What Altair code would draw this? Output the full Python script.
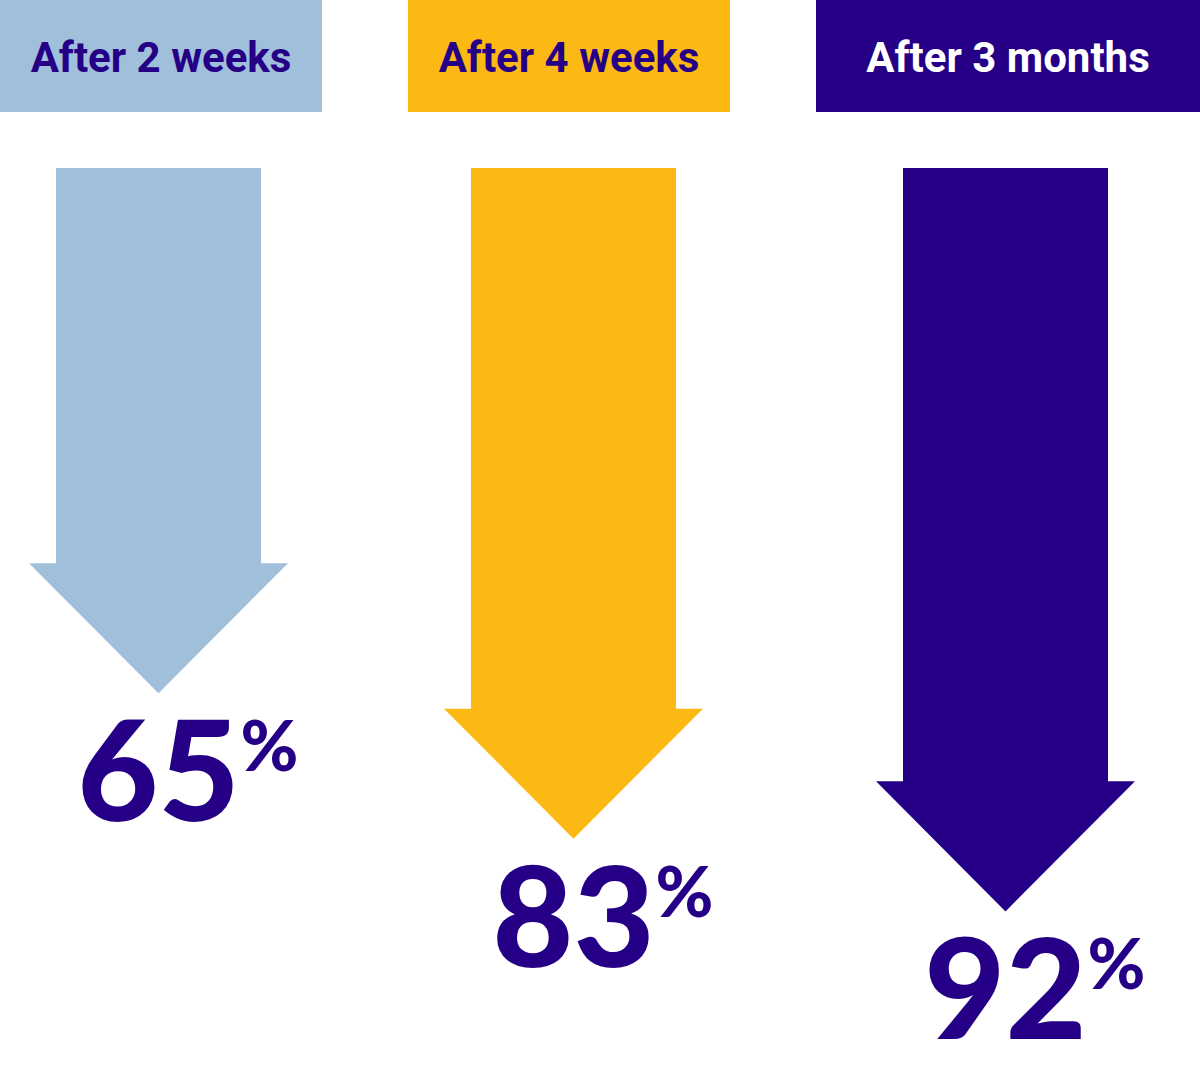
import altair as alt
import pandas as pd

# ---- data ----
labels = ["After 2 weeks", "After 4 weeks", "After 3 months"]
values = [65, 83, 92]
fill_colors = ["#A0BFDA", "#FDB913", "#250087"]
header_text_colors = ["#250087", "#250087", "#FFFFFF"]
label_color = "#250087"

# ---- layout (not data) ----
W = 1200
HEADER_H = 112
GAP = 56
ARROW_H = 1075 - HEADER_H - GAP
PX_PER_UNIT = 8.08                    # arrow length per percentage point
ARROW_CENTRES = [158.5, 573.5, 1005.5]  # pixel range for the column index scale
HDR_STEP = 408
HDR_BOX = 322
SHAFT_W = 205
HEAD_W = 259
HEAD_H = 130 / PX_PER_UNIT
Y_DOMAIN = [0, ARROW_H / PX_PER_UNIT]

hdr_half = (HDR_BOX / 2) / HDR_STEP
hx_scale = alt.Scale(domain=[-hdr_half, (W - HDR_BOX / 2) / HDR_STEP], nice=False, zero=False)
ax_scale = alt.Scale(domain=list(range(len(labels))), range=ARROW_CENTRES,
                     nice=False, zero=False, padding=0)
yscale = alt.Scale(domain=Y_DOMAIN, nice=False, zero=False, reverse=True, padding=0)

rows = []
for i, (lab, v, c, tc) in enumerate(zip(labels, values, fill_colors, header_text_colors)):
    last = i == len(labels) - 1
    left = i - hdr_half
    right = hx_scale.domain[1] if last else i + hdr_half
    rows.append(dict(i=i, label=lab, value=v, col=c, tcol=tc,
                     left=left, right=right, mid=(left + right) / 2,
                     zero=0, s_bot=v - HEAD_H + 0.3, base=v - HEAD_H,
                     pct=str(v)))
df = pd.DataFrame(rows)

noaxis = dict(axis=None)

# ---- header row ----
hbase = alt.Chart(df)
hbox = hbase.mark_rect().encode(
    x=alt.X("left:Q", scale=hx_scale, **noaxis),
    x2="right:Q",
    color=alt.Color("col:N", scale=None),
)
htext = hbase.mark_text(font="Roboto", fontWeight="bold", fontSize=42,
                        baseline="alphabetic", align="center").encode(
    x=alt.X("mid:Q", scale=hx_scale, **noaxis),
    y=alt.value(72),
    text="label:N",
    color=alt.Color("tcol:N", scale=None),
)
header = alt.layer(hbox, htext).properties(width=W, height=HEADER_H)

# ---- arrows ----
abase = alt.Chart(df)
shaft = abase.mark_bar(width=SHAFT_W).encode(
    x=alt.X("i:Q", scale=ax_scale, **noaxis),
    y=alt.Y("zero:Q", scale=yscale, **noaxis),
    y2="s_bot:Q",
    color=alt.Color("col:N", scale=None),
)
head = abase.mark_point(shape="M -1 0 L 1 0 L 0 1.004 Z", size=HEAD_W ** 2,
                        filled=True, opacity=1, strokeWidth=0).encode(
    x=alt.X("i:Q", scale=ax_scale, **noaxis),
    y=alt.Y("base:Q", scale=yscale, **noaxis),
    color=alt.Color("col:N", scale=None),
)
num = abase.mark_text(font="Lato", fontWeight=900, fontSize=140,
                      align="center", baseline="alphabetic", dy=128,
                      color=label_color).encode(
    x=alt.X("i:Q", scale=ax_scale, **noaxis),
    y=alt.Y("value:Q", scale=yscale, **noaxis),
    text="pct:N",
)
pct = abase.mark_text(font="Lato", fontWeight=900, fontSize=70,
                      align="left", baseline="alphabetic", dx=82, dy=78,
                      color=label_color).encode(
    x=alt.X("i:Q", scale=ax_scale, **noaxis),
    y=alt.Y("value:Q", scale=yscale, **noaxis),
    text=alt.value("%"),
)
arrows = alt.layer(shaft, head, num, pct).properties(width=W, height=ARROW_H)

chart = alt.vconcat(header, arrows, spacing=GAP).configure_view(
    stroke=None
).properties(padding=0, background="white")

chart.save("out.html", embed_options={"renderer": "svg", "actions": False})
